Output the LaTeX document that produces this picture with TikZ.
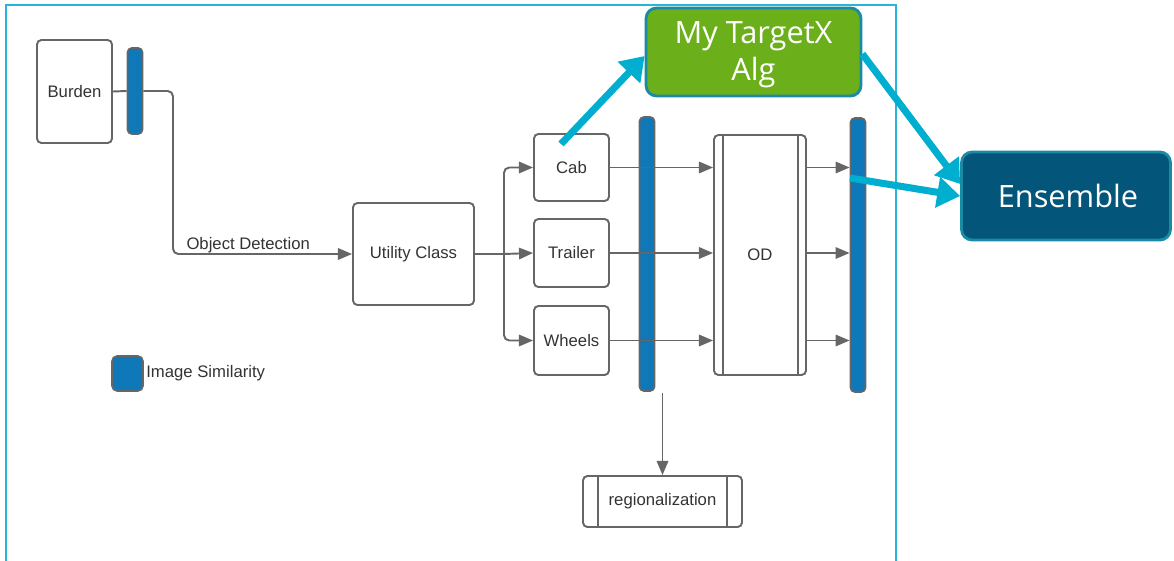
\documentclass[tikz,border=0pt]{standalone}
\usepackage{fontspec}
\setmainfont{Liberation Sans}
\newfontfamily\opensans{Open Sans}
\usetikzlibrary{arrows.meta,calc}
\definecolor{linegray}{HTML}{666666}
\definecolor{textgray}{HTML}{333333}
\definecolor{barblue}{HTML}{0E78B8}
\definecolor{framecyan}{HTML}{29B5D9}
\definecolor{flowcyan}{HTML}{00AECF}
\definecolor{algreen}{HTML}{6BB01A}
\definecolor{enstea}{HTML}{03567A}
\definecolor{edgeteal}{HTML}{1A8BA5}
\begin{document}
\begin{tikzpicture}[x=0.02cm,y=-0.02cm,
	box/.style={draw=linegray,line width=1.1pt,rounded corners=2.5pt,fill=white,text=textgray,font=\fontsize{9.5}{11}\selectfont,inner sep=0pt},
	bar/.style={draw=linegray,line width=1pt,rounded corners=2.5pt,fill=barblue,minimum width=0.3cm,inner sep=0pt},
	conn/.style={draw=linegray,line width=1.1pt,-{Triangle[length=8pt,width=6.5pt]}},
	bigbox/.style={line width=1.6pt,rounded corners=6pt,inner sep=0pt},
	bigtext/.style={text=white,font=\opensans\fontsize{17.5}{21}\selectfont,align=center,inner sep=0pt},
	flow/.style={draw=flowcyan,line width=4pt,-{Triangle[length=13pt,width=17pt]}}]
	\useasboundingbox (0,0) rectangle (1174,561);
	\draw[framecyan,line width=1.2pt] (6,561) -- (6,5) -- (896,5) -- (896,561);
	% image similarity bars
	\node[bar,minimum height=1.72cm] (bar1) at (135,91) {};
	\node[bar,minimum height=5.48cm] (bar2) at (647,254) {};
	\node[bar,minimum height=5.48cm] (bar3) at (858,255) {};
	% boxes
	\node[box,minimum width=1.5cm,minimum height=2.06cm] (burden) at (74.5,91.5) {Burden};
	\node[box,minimum width=2.42cm,minimum height=2.04cm] (utility) at (413.5,254) {Utility Class};
	\node[box,minimum width=1.5cm,minimum height=1.34cm] (cab) at (571.5,167.5) {Cab};
	\node[box,minimum width=1.5cm,minimum height=1.36cm] (trailer) at (571.5,253) {Trailer};
	\node[box,minimum width=1.5cm,minimum height=1.38cm] (wheels) at (571.5,340.5) {Wheels};
	\node[box,minimum width=1.84cm,minimum height=4.8cm] (od) at (760,255) {OD};
	\draw[linegray,line width=1.1pt] ($(od.north west)+(10,0)$) -- ($(od.south west)+(10,0)$);
	\draw[linegray,line width=1.1pt] ($(od.north east)+(-9,0)$) -- ($(od.south east)+(-9,0)$);
	\node[box,minimum width=3.18cm,minimum height=1.02cm] (region) at (662.5,501.5) {regionalization};
	\draw[linegray,line width=1.1pt] ($(region.north west)+(16,0)$) -- ($(region.south west)+(16,0)$);
	\draw[linegray,line width=1.1pt] ($(region.north east)+(-16,0)$) -- ($(region.south east)+(-16,0)$);
	% legend
	\node[bar,minimum width=0.62cm,minimum height=0.7cm,rounded corners=3pt] (legend) at (127.5,373.5) {};
	\node[anchor=west,text=textgray,font=\fontsize{9.5}{11}\selectfont,inner sep=0pt] (legendtext) at (146,373) {Image Similarity};
	% connectors
	\draw[linegray,line width=1.1pt] (burden.east) -- (bar1.west);
	\draw[conn,rounded corners=3pt] (bar1.east) -- (173,91) -- (173,254) -- node[pos=0.07,above right=-1pt,inner sep=1pt,text=textgray,font=\fontsize{9.5}{11}\selectfont] {Object Detection} (utility.west);
	\coordinate (split) at (504,254);
	\draw[linegray,line width=1.1pt] (utility.east) -- (split);
	\draw[conn,rounded corners=3pt] (split) |- (cab.west);
	\draw[conn] (split) -- (trailer.west);
	\draw[conn,rounded corners=3pt] (split) |- (wheels.west);
	\draw[conn] (cab.east) -- (od.west |- cab.east);
	\draw[conn] (trailer.east) -- (od.west |- trailer.east);
	\draw[conn] (wheels.east) -- (od.west |- wheels.east);
	\draw[conn] (od.east |- cab.east) -- (bar3.west |- cab.east);
	\draw[conn] (od.east |- trailer.east) -- (bar3.west |- trailer.east);
	\draw[conn] (od.east |- wheels.east) -- (bar3.west |- wheels.east);
	\draw[conn] (region.north |- bar2.south) ++(0,1) -- (region.north);
	% algorithm boxes
	\node[bigbox,draw=edgeteal,fill=algreen,minimum width=4.3cm,minimum height=1.76cm] (targetx) at (753.5,52) {};
	\node[bigtext] (targetxtext) at (753.5,55) {My TargetX\\Alg};
	\node[bigbox,draw=edgeteal,fill=enstea,minimum width=4.18cm,minimum height=1.76cm] (ensemble) at (1066,196) {};
	\node[bigtext] (ensembletext) at (1068,196) {Ensemble};
	\coordinate (cabtip) at (561,144);
	\coordinate (bartip) at (850,178);
	\draw[flow] (cabtip) -- ($(targetx.west)+(0,4)$);
	\draw[flow] ($(targetx.east)+(0,2)$) -- ($(ensemble.west)+(0,-12)$);
	\draw[flow] (bartip) -- (ensemble.west);
\end{tikzpicture}
\end{document}
